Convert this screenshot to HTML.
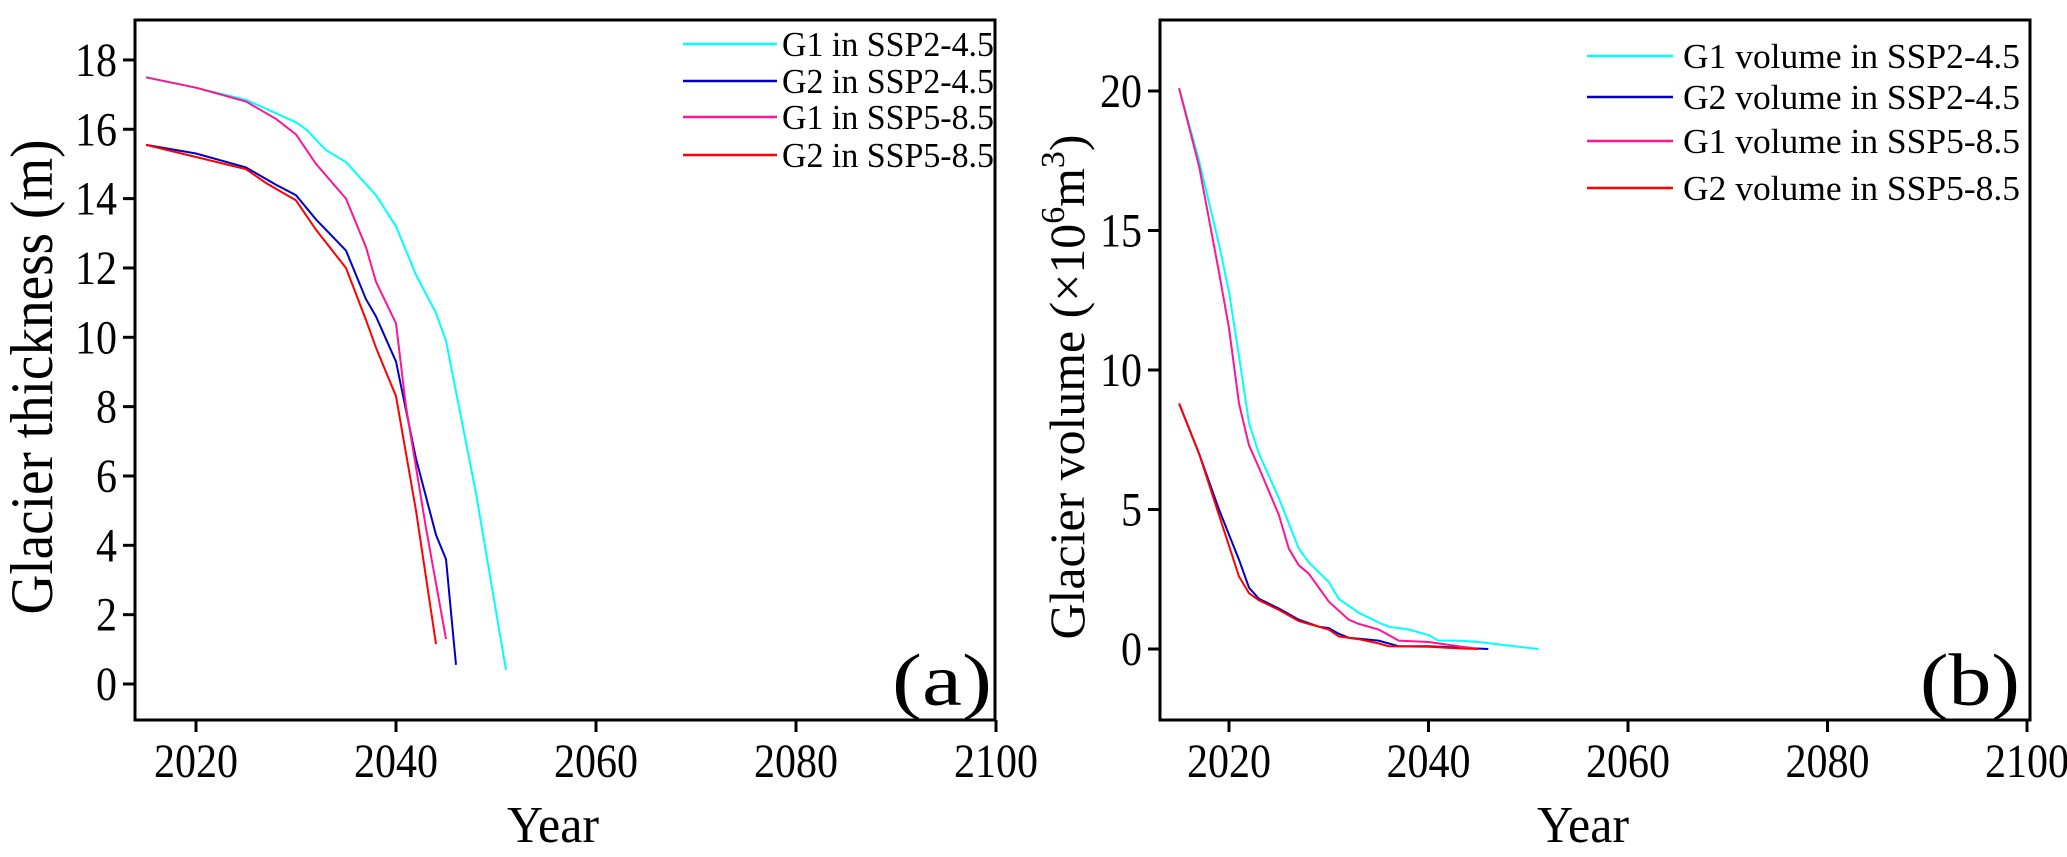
<!DOCTYPE html>
<html><head><meta charset="utf-8"><style>
html,body{margin:0;padding:0;background:#fff;}
svg{display:block;font-family:"Liberation Serif",serif;}
</style></head><body>
<svg id="s" width="2067" height="857" viewBox="0 0 2067 857" xmlns="http://www.w3.org/2000/svg">
<rect width="2067" height="857" fill="#fff"/>
<g id="a"></g>
<text x="52" y="377" font-size="60" text-anchor="middle" transform="rotate(-90 52 377)" textLength="475" lengthAdjust="spacingAndGlyphs">Glacier thickness (m)</text>
<text x="1084" y="387" font-size="50" text-anchor="middle" transform="rotate(-90 1084 387)" textLength="505" lengthAdjust="spacingAndGlyphs">Glacier volume (×10<tspan dy="-20" font-size="34">6</tspan><tspan dy="20">m</tspan><tspan dy="-20" font-size="34">3</tspan><tspan dy="20">)</tspan></text>
<text x="553" y="842" font-size="52" text-anchor="middle" textLength="92" lengthAdjust="spacingAndGlyphs">Year</text>
<text x="1583" y="842" font-size="52" text-anchor="middle" textLength="92" lengthAdjust="spacingAndGlyphs">Year</text>
<text x="992" y="705" font-size="74" text-anchor="end" textLength="100" lengthAdjust="spacingAndGlyphs">(a)</text>
<text x="2020" y="705" font-size="74" text-anchor="end" textLength="100" lengthAdjust="spacingAndGlyphs">(b)</text>
<g font-size="35">
<text x="782" y="56" textLength="212" lengthAdjust="spacingAndGlyphs">G1 in SSP2-4.5</text>
<text x="782" y="93" textLength="212" lengthAdjust="spacingAndGlyphs">G2 in SSP2-4.5</text>
<text x="782" y="129" textLength="212" lengthAdjust="spacingAndGlyphs">G1 in SSP5-8.5</text>
<text x="782" y="167" textLength="212" lengthAdjust="spacingAndGlyphs">G2 in SSP5-8.5</text>
<text x="1683" y="68" textLength="337" lengthAdjust="spacingAndGlyphs">G1 volume in SSP2-4.5</text>
<text x="1683" y="109" textLength="337" lengthAdjust="spacingAndGlyphs">G2 volume in SSP2-4.5</text>
<text x="1683" y="153" textLength="337" lengthAdjust="spacingAndGlyphs">G1 volume in SSP5-8.5</text>
<text x="1683" y="200" textLength="337" lengthAdjust="spacingAndGlyphs">G2 volume in SSP5-8.5</text>
</g>
<g id="t" font-size="48"></g>
</svg>
<script>
var NS="http://www.w3.org/2000/svg",g=document.getElementById('a'),t=document.getElementById('t');
function el(p,n,a,txt){var e=document.createElementNS(NS,n);for(var k in a)e.setAttribute(k,a[k]);if(txt!=null)e.textContent=txt;p.appendChild(e);return e;}
var C={c:"#00ffff",b:"#0000c8",m:"#ff1493",r:"#ff0000"};
function plot(P,series,legY,legX0,legX1){
 function X(v){return P.x0+(v-2020)*P.xs;} function Y(v){return P.y0-v*P.ys;}
 series.forEach(function(s){var pts=[];for(var i=0;i<s.d.length;i+=2)pts.push(X(s.d[i]).toFixed(1)+","+Y(s.d[i+1]).toFixed(1));
  el(g,"polyline",{points:pts.join(" "),fill:"none",stroke:C[s.c],"stroke-width":2});});
 series.forEach(function(s,i){el(g,"line",{x1:legX0,x2:legX1,y1:legY[i],y2:legY[i],stroke:C[s.c],"stroke-width":2.5});});
 el(g,"rect",{x:P.L,y:20,width:P.R-P.L,height:700,fill:"none",stroke:"#000","stroke-width":3});
 for(var yr=2020;yr<=2100;yr+=20){var x=X(yr);el(g,"line",{x1:x,x2:x,y1:720,y2:732,stroke:"#000","stroke-width":3});
  el(t,"text",{x:x,y:777,"text-anchor":"middle",textLength:84,lengthAdjust:"spacingAndGlyphs"},String(yr));}
 P.yt.forEach(function(v){var y=Y(v);el(g,"line",{x1:P.L-12,x2:P.L,y1:y,y2:y,stroke:"#000","stroke-width":3});
  var s=String(v);el(t,"text",{x:P.L-18,y:y+16,"text-anchor":"end",textLength:s.length*21,lengthAdjust:"spacingAndGlyphs"},s);});
}
plot({L:135,R:995,x0:196,xs:10,y0:684,ys:34.67,yt:[0,2,4,6,8,10,12,14,16,18]},[
{c:"c",d:[2015,17.5,2020,17.2,2025,16.85,2030,16.2,2031,16.0,2033,15.4,2035,15.05,2038,14.1,2040,13.2,2042,11.8,2044,10.7,2045,9.9,2048,5.5,2051,0.4]},
{c:"b",d:[2015,15.55,2020,15.3,2025,14.9,2028,14.4,2030,14.1,2032,13.4,2035,12.5,2037,11.1,2038,10.6,2040,9.3,2042,6.5,2044,4.3,2045,3.6,2046,0.55]},
{c:"m",d:[2015,17.5,2020,17.2,2025,16.8,2028,16.3,2030,15.85,2032,15.0,2035,14.0,2037,12.6,2038,11.6,2040,10.4,2041,8,2043,4.5,2045,1.3]},
{c:"r",d:[2015,15.55,2020,15.2,2025,14.85,2027,14.45,2030,13.95,2032,13.1,2035,12.0,2037,10.5,2038,9.7,2040,8.3,2042,5,2044,1.15]}
],[44,81,117,155],683,777);
plot({L:1160,R:2030,x0:1229,xs:9.975,y0:649,ys:27.9,yt:[0,5,10,15,20]},[
{c:"c",d:[2015,20.1,2017,17.5,2019,14.5,2020,12.8,2021,10.5,2022,8.1,2023,7.0,2025,5.4,2027,3.6,2028,3.1,2030,2.4,2031,1.8,2033,1.3,2035,0.95,2036,0.8,2038,0.7,2040,0.5,2041,0.3,2043,0.3,2045,0.25,2051,0]},
{c:"b",d:[2015,8.8,2017,7.0,2019,5.0,2021,3.2,2022,2.2,2023,1.8,2025,1.45,2027,1.05,2029,0.8,2030,0.75,2031,0.55,2032,0.4,2035,0.3,2037,0.1,2040,0.1,2046,0]},
{c:"m",d:[2015,20.1,2017,17.3,2019,13.5,2020,11.5,2021,8.8,2022,7.3,2023,6.5,2025,4.8,2026,3.6,2027,3.0,2028,2.7,2030,1.7,2032,1.05,2033,0.9,2035,0.7,2036,0.5,2037,0.3,2040,0.25,2043,0.1,2045,0]},
{c:"r",d:[2015,8.8,2017,7.0,2019,4.8,2021,2.6,2022,2.0,2023,1.75,2025,1.4,2027,1.0,2028,0.9,2030,0.7,2031,0.45,2033,0.35,2035,0.2,2036,0.1,2040,0.08,2043,0.02,2045,0]}
],[56,97,141,188],1587,1673);
</script>
</body></html>
